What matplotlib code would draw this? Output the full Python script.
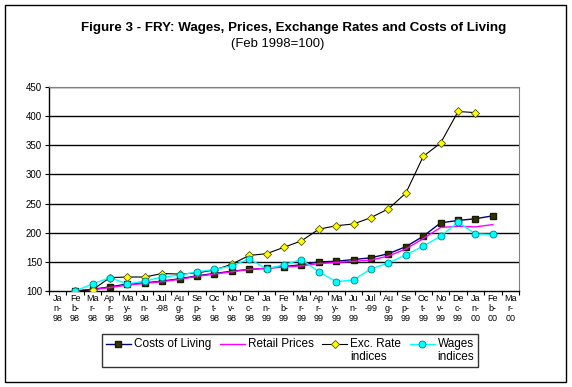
import matplotlib

matplotlib.use("Agg")
import matplotlib.pyplot as plt
from matplotlib.legend_handler import HandlerLine2D
from matplotlib.lines import Line2D
from matplotlib.patches import Rectangle
import numpy as np

nan = np.nan

months = ["Jan", "Feb", "Mar", "Apr", "May", "Jun", "Jul", "Aug", "Sep", "Oct", "Nov", "Dec"]
periods = [(m, y) for y in ("98", "99") for m in months] + [("Jan", "00"), ("Feb", "00"), ("Mar", "00")]

costs_of_living = [nan, 100, 103, 107, 112, 114, 117, 121, 126, 130, 134, 137,
                   139, 142, 145, 150, 151, 154, 157, 164, 176, 194, 217, 221,
                   224, 229, nan]
retail_prices = [nan, 100, 102, 106, 110, 113, 116, 120, 125, 129, 133, 137,
                 139, 141, 143, 147, 149, 151, 153, 160, 172, 190, 209, 211,
                 210, 214, nan]
exc_rate = [nan, 100, 102, 123, 124, 124, 130, 129, 131, 136, 146, 161,
            164, 175, 186, 206, 212, 215, 226, 241, 268, 331, 354, 408,
            406, nan, nan]
wages = [nan, 100, 112, 123, 112, 117, 124, 127, 133, 137, 143, 155,
         138, 145, 154, 133, 116, 119, 138, 148, 162, 177, 194, 218,
         198, 197, nan]


def wrap_label(month, year):
    if month == "Jul":
        return f"Jul\n-{year}"
    return f"{month[:2]}\n{month[2:]}-\n{year}"


class RaisedLine(HandlerLine2D):
    # put the legend key level with the first line of a two-line label
    def create_artists(self, legend, orig_handle, xdescent, ydescent,
                       width, height, fontsize, trans):
        shift = 0.62 * fontsize
        return super().create_artists(legend, orig_handle, xdescent,
                                      ydescent - 2 * shift, width, height,
                                      fontsize, trans)


labels = [wrap_label(m, y) for m, y in periods]
x = np.arange(len(periods))

plt.rcParams["font.family"] = ["Liberation Sans", "DejaVu Sans"]

fig = plt.figure(figsize=(5.72, 3.87), dpi=100)
fig.patch.set_facecolor("white")
fig.patches.append(Rectangle((5 / 572, 1 - 382 / 387), 561 / 572, 377 / 387,
                             transform=fig.transFigure, fill=False,
                             edgecolor="black", linewidth=1.0))

ax = fig.add_axes([49 / 572, 1 - 291 / 387, 470 / 572, 204 / 387])

ax.plot(x, costs_of_living, color="#000080", linewidth=1.0, marker="s",
        markersize=5, markerfacecolor="#333300", markeredgecolor="#1a1a00",
        label="Costs of Living\n ", zorder=3)
ax.plot(x, retail_prices, color="#FF00FF", linewidth=1.0,
        label="Retail Prices\n ", zorder=4)
ax.plot(x, exc_rate, color="black", linewidth=0.8, marker="D",
        markersize=4.5, markerfacecolor="#FFFF00", markeredgecolor="#555500",
        markeredgewidth=0.6, label="Exc. Rate\nindices", zorder=5)
ax.plot(x, wages, color="#00FFFF", linewidth=1.0, marker="o",
        markersize=5, markerfacecolor="#00FFFF", markeredgecolor="#008080",
        markeredgewidth=0.6, label="Wages\nindices", zorder=6)

ax.set_xlim(-0.5, len(periods) - 0.5)
ax.set_ylim(100, 450)
ax.set_yticks(range(100, 451, 50))
ax.tick_params(axis="y", labelsize=7, length=3, width=0.8, pad=2)
ax.set_xticks(x)
ax.set_xticklabels(labels, fontsize=6.5, linespacing=1.15, va="top")
ax.tick_params(axis="x", which="major", length=0, pad=2)
ax.set_xticks(np.arange(-0.5, len(periods), 1), minor=True)
ax.tick_params(axis="x", which="minor", length=3, width=0.8)

for value in range(150, 451, 50):
    ax.axhline(value, color="black", linewidth=1.0, zorder=1)

ax.spines["top"].set_color("#808080")
ax.spines["right"].set_color("#808080")
ax.spines["left"].set_linewidth(1.0)
ax.spines["bottom"].set_linewidth(1.0)

fig.text(293.5 / 572, 1 - 28.5 / 387,
         "Figure 3 - FRY: Wages, Prices, Exchange Rates and Costs of Living",
         ha="center", va="center", fontsize=9.6, fontweight="bold")
fig.text(278 / 572, 1 - 44.5 / 387, "(Feb 1998=100)",
         ha="center", va="center", fontsize=9.4)

leg = fig.legend(loc="center", bbox_to_anchor=(290 / 572, 1 - 350.5 / 387),
                 ncol=4, fontsize=8.5, frameon=True, fancybox=False,
                 edgecolor="black", handlelength=2.1, handletextpad=0.25,
                 columnspacing=0.75, borderpad=0.3,
                 handler_map={Line2D: RaisedLine()})
leg.get_frame().set_linewidth(1.0)
for text in leg.get_texts():
    text.set_multialignment("left")

fig.savefig("out.png", dpi=100, facecolor="white")
